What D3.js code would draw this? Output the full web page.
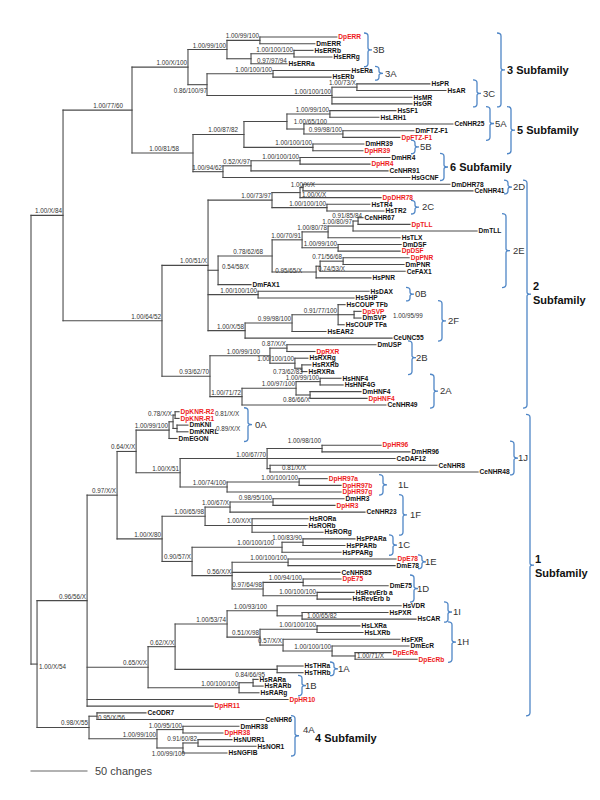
<!DOCTYPE html>
<html>
<head>
<meta charset="utf-8">
<script src="https://cdn.jsdelivr.net/npm/d3@7"></script>
<style>
  html, body { margin: 0; padding: 0; background: #fff; }
  svg { display: block; }
</style>
</head>
<body>
<svg id="chart" width="600" height="800"></svg>
<script>
// ---------------- DATA (branch lengths in "changes", support = Bayesian/MP/ML) ----------------
const subfamily3 = "(((DpERR:67.5,DmERR:48.2)1.00/99/100:28.9,((HsERRb:16.7,HsERRg:33.3)1.00/100/100:37.7,HsERRa:31.6)0.97/97/94:21.1)1.00/99/100:34.2,((HsERa:67.5,HsERb:50.9)1.00/100/100:57.9,((HsPR:64.0,HsAR:78.1)1.00/73/X:21.9,HsMR:70.2,HsGR:70.2)1.00/100/100:109.6)0.86/100/97:16.7)1.00/X/100:49.1";
const subfamily5 = "(((HsSF1:57.9,HsLRH1:43.0)1.00/99/100:37.7,(CeNHR25:130.7,(DmFTZ-F1:62.3,DpFTZ-F1:50.0)0.99/98/100:34.2)1.00/65/100:14.9):37.7,(DmHR39:44.7,DpHR39:43.9)1.00/100/100:60.5)1.00/87/82:44.7";
const subfamily6 = "(((DmHR4:78.9,DpHR4:61.4)1.00/100/100:43.0,CeNHR91:120.2)0.52/X/97:24.6,HsGCNF:164.0)1.00/94/62:26.3";
const group2DC = "(((DmDHR78:128.9,CeNHR41:149.1)1.00/X/X:2.6,DpDHR78:71.1)1.00/X/X:24.6,(HsTR4:37.7,HsTR2:50.0)1.00/100/100:48.2)1.00/73/97:56.1";
const group2E = "((((((CeNHR67:4.4,DpTLL:45.6)0.91/85/84:4.4,DmTLL:108.8)1.00/80/97:21.9,HsTLX:63.2)1.00/80/78:22.8,(DmDSF:55.3,DpDSF:54.4)1.00/99/100:31.6)1.00/70/91:26.3,(((DpPNR:57.9,DmPNR:53.5)0.71/56/68:20.2,CeFAX1:74.6)0.74/53/X:3.5,HsPNR:48.2)0.95/65/X:38.6)0.78/62/68:47.4,DmFAX1:28.9)0.54/58/X:8.8";
const group0B = "(HsDAX:97.4,HsSHP:84.2)1.00/100/100:43.9";
const group2F = "(((HsCOUP TFb:6.1,(DpSVP:6.1,DmSVP:6.1)1.00/95/99:14.0,HsCOUP TFa:5.3)0.91/77/100:40.4,HsEAR2:29.8)0.99/98/100:41.2,CeUNC55:128.9)1.00/X/58:32.5";
const group2BA = "(((DmUSP:78.1,DpRXR:24.6)0.87/X/X:14.9,(HsRXRg:11.4,(HsRXRb:7.9,HsRXRa:4.4)0.73/62/83:6.1)1.00/100/100:21.9)1.00/99/100:52.6,(((HsHNF4:18.4,HsHNF4G:20.2)1.00/99/100:21.1,(DmHNF4:44.7,DpHNF4:50.0)0.86/66/X:12.3)1.00/97/100:47.4,CeNHR49:126.3)1.00/71/72:28.1)0.93/62/70:42.1";
const group0A = "(((DpKNR-R2:3.5,DpKNR-R1:3.5)0.81/X/X:1.8,(DmKNI:9.6,DmKNRL:9.6)0.89/X/X:3.5)0.78/X/X:3.5,DmEGON:7.0)1.00/99/100:28.9";
const group1JL = "(((DpHR96:51.8,DmHR96:77.2)1.00/98/100:48.2,CeDAF12:112.3,(CeNHR8:146.5,CeNHR48:182.5)0.81/X/X:2.6)1.00/67/70:76.3,((DpHR97a:24.6,DpHR97b:36.8)1.00/100/100:63.2,DpHR97g:100.0)1.00/74/100:41.2)1.00/X/51:38.6";
const group1FCDE = "((((DmHR3:62.3,DpHR3:54.4)0.98/95/100:37.7,CeNHR23:118.4)1.00/67/X:21.9,(HsRORa:49.1,HsRORb:48.2,HsRORg:62.3)1.00/X/X:41.2)1.00/65/98:37.7,(((HsPPARa:45.6,HsPPARb:36.8)1.00/83/90:18.4,HsPPARg:51.8)1.00/100/100:78.9,((DpE78:94.7,DmE78:93.9)1.00/100/100:49.1,CeNHR85:94.7,((DpE75:33.3,DmE75:74.6)1.00/94/100:35.1,(HsRevErb a:32.5,HsRevErb b:29.8)1.00/100/100:47.4)0.97/64/98:27.2)0.56/X/X:35.1)0.90/57/X:26.3)1.00/X/80:39.5";
const group1IHAB = "((((HsVDR:108.8,(HsPXR:75.4,HsCAR:100.0)1.00/65/82:21.9)1.00/93/100:43.9,((HsLXRa:37.7,HsLXRb:40.4)1.00/100/100:50.0,(HsFXR:102.6,(DmEcR:67.5,(DpEcRa:31.6,DpEcRb:54.4)1.00/71/X:20.2)1.00/100/100:43.0)0.57/X/X:20.2)0.51/X/98:28.9)1.00/53/74:45.6,(HsTHRa:22.8,HsTHRb:22.8):89.5)0.62/X/X:23.7,((HsRARa:4.4,HsRARb:8.8)0.84/66/95:12.3,HsRARg:17.5)1.00/100/100:79.8)0.65/X/X:53.5";
const group4 = "((CeODR7:43.0,CeNHR6:146.5)0.95/X/56:7.0,((DmHR38:49.1,DpHR38:35.1)1.00/95/100:22.8,((HsNURR1:29.8,HsNOR1:50.9)0.91/60/82:13.2,HsNGFIB:38.6)1.00/99/100:22.8)1.00/99/100:59.6)0.98/X/55:45.6";

const treeNewick =
  `(((${subfamily3},(${subfamily5},${subfamily6})1.00/81/58:53.5)1.00/77/60:60.5,` +
  `((${group2DC},${group2E},${group0B},${group2F})1.00/51/X:40.4,${group2BA})1.00/64/52:86.8)1.00/X/84:28.1,` +
  `((((${group0A},${group1JL})0.64/X/X:16.7,${group1FCDE})0.97/X/X:26.3,${group1IHAB},DpHR10:176.3,DpHR11:110.5)0.96/56/X:43.9,` +
  `${group4})1.00/X/54:5.3);`;

// clade brackets: label, first leaf, last leaf
const cladeGroups = [
  ["3B", "DpERR", "HsERRa"], ["3A", "HsERa", "HsERb"], ["3C", "HsPR", "HsGR"],
  ["3 Subfamily", "DpERR", "HsGR"],
  ["5A", "HsSF1", "DpFTZ-F1"], ["5B", "DmHR39", "DpHR39"], ["5 Subfamily", "HsSF1", "DpHR39"],
  ["6 Subfamily", "DmHR4", "HsGCNF"],
  ["2D", "DmDHR78", "CeNHR41"], ["2C", "HsTR4", "HsTR2"], ["2E", "CeNHR67", "DmFAX1"],
  ["0B", "HsDAX", "HsSHP"], ["2F", "HsCOUP TFb", "CeUNC55"], ["2B", "DmUSP", "HsRXRa"],
  ["2A", "HsHNF4", "CeNHR49"], ["2 Subfamily", "DmDHR78", "CeNHR49"],
  ["0A", "DpKNR-R2", "DmEGON"], ["1J", "DpHR96", "CeNHR48"], ["1L", "DpHR97a", "DpHR97g"],
  ["1F", "DmHR3", "HsRORg"], ["1C", "HsPPARa", "HsPPARg"], ["1E", "DpE78", "DmE78"],
  ["1D", "DpE75", "HsRevErb b"], ["1I", "HsVDR", "HsCAR"], ["1H", "HsLXRa", "DpEcRb"],
  ["1 Subfamily", "DpKNR-R1", "CeODR7"], ["1A", "HsTHRa", "HsTHRb"], ["1B", "HsRARa", "HsRARg"],
  ["4A", "CeNHR6", "HsNGFIB"]
];
const extraLabels = [["4 Subfamily", "4A"]];
const scaleBarValue = 50;
const scaleBarText = "50 changes";

// ---------------- LAYOUT ----------------
const bracketLayout = {
  "3B": {x: 368, tx: 5}, "3A": {x: 379, tx: 6}, "3C": {x: 477, tx: 6},
  "3 Subfamily": {x: 501, tx: 6},
  "5A": {x: 490, tx: 5}, "5B": {x: 415, tx: 5}, "5 Subfamily": {x: 511, tx: 6},
  "6 Subfamily": {x: 444, tx: 6},
  "2D": {x: 508, tx: 5}, "2C": {x: 415, tx: 7}, "2E": {x: 506, tx: 7},
  "0B": {x: 410, tx: 5}, "2F": {x: 442, tx: 6}, "2B": {x: 412, tx: 4},
  "2A": {x: 434, tx: 6}, "2 Subfamily": {x: 527, tx: 6, two: true, ty: 0},
  "0A": {x: 248, tx: 7}, "1J": {x: 514, tx: 4}, "1L": {x: 383, tx: 15},
  "1F": {x: 403, tx: 7}, "1C": {x: 393, tx: 5}, "1E": {x: 422, tx: 3},
  "1D": {x: 414, tx: 3}, "1I": {x: 448, tx: 5}, "1H": {x: 452, tx: 5},
  "1 Subfamily": {x: 530, tx: 5, two: true, ty: 2}, "1A": {x: 334, tx: 4}, "1B": {x: 302, tx: 3},
  "4A": {x: 295, tx: 8, ty: -6}
};
// support-label placement tweaks keyed by "firstLeaf|lastLeaf"
const labelNudges = {
  "DpKNR-R2|HsNGFIB": {a: "start", dx: 2, dy: 4.5},
  "HsERRb|HsERRa": {a: "start", dx: 6, dy: 4},
  "DpKNR-R2|DpKNR-R1": {a: "start", dx: 40, dy: 1},
  "DmKNI|DmKNRL": {a: "start", dx: 39, dy: 3},
  "DpSVP|DmSVP": {a: "start", dx: 39, dy: 3},
  "CeNHR8|CeNHR48": {a: "start", dx: 12, dy: 1.5},
  "HsRXRb|HsRXRa": {a: "end", dx: 1, dy: 6},
  "DmHNF4|DpHNF4": {a: "end", dx: 0, dy: 7},
  "HsPXR|HsCAR": {a: "start", dx: 5, dy: 2},
  "DpEcRa|DpEcRb": {a: "start", dx: 2, dy: 2},
  "HsRARa|HsRARb": {a: "end", dx: 12, dy: -5.5},
  "HsNURR1|HsNGFIB": {a: "end", dx: 2, dy: 8.5},
  "CeODR7|CeNHR6": {a: "start", dx: 1, dy: 4},
  "DmDHR78|CeNHR41": {a: "end", dx: 12, dy: -1},
  "DmDHR78|DpDHR78": {a: "start", dx: 2, dy: 4.5},
  "CeNHR67|DpTLL": {a: "end", dx: 4, dy: -3.5},
  "CeNHR67|HsPNR": {a: "end", dx: -9, dy: -2},
  "CeNHR67|DmFAX1": {a: "start", dx: 4, dy: -1},
  "DpPNR|HsPNR": {a: "end", dx: -14, dy: 1},
  "DpPNR|CeFAX1": {a: "start", dx: -2, dy: 5},
  "DmUSP|HsRXRa": {a: "end", dx: -10, dy: -2},
  "DpHR96|DmHR96": {a: "end", dx: -1, dy: -6},
  "HsVDR|HsCAR": {a: "end", dx: -10, dy: -2},
  "CeNHR25|DpFTZ-F1": {a: "end", dx: 23, dy: -5.5},
  "HsERa|HsGR": {a: "end", dx: 0, dy: 8},
  "HsSF1|HsGCNF": {a: "end", dx: -14, dy: -2},
  "HsSF1|DpHR39": {a: "end", dx: -6, dy: -2},
  "DpERR|HsGCNF": {a: "end", dx: -9, dy: -2},
  "DpKNR-R2|DmKNRL": {a: "end", dx: -1, dy: -6},
  "HsPPARa|HsPPARg": {a: "end", dx: -8, dy: -2}
};

// ---------------- PARSER ----------------
function parseNewick(str) {
  const s = str.replace(/\s*([(),:;])\s*/g, "$1");
  let i = 0;
  function node() {
    const n = {children: []};
    if (s[i] === "(") {
      i++;
      n.children.push(node());
      while (s[i] === ",") { i++; n.children.push(node()); }
      i++;
    }
    let lab = "";
    while (i < s.length && !",():;".includes(s[i])) lab += s[i++];
    lab = lab.trim();
    if (n.children.length) n.support = lab; else { n.name = lab; delete n.children; }
    n.length = 0;
    if (s[i] === ":") {
      i++;
      let num = "";
      while (i < s.length && !",();".includes(s[i])) num += s[i++];
      n.length = +num;
    }
    return n;
  }
  return node();
}

// ---------------- DRAW ----------------
const svg = d3.select("#chart");
const root = d3.hierarchy(parseNewick(treeNewick));
root.each(d => { d.dist = (d.parent ? d.parent.dist : 0) + (d.parent ? d.data.length : 0); });
const leaves = root.leaves();

const xScale = d3.scaleLinear().domain([0, scaleBarValue]).range([31, 88]);
const yScale = d3.scaleLinear().domain([0, leaves.length - 1]).range([37, 753]);

leaves.forEach((d, i) => { d.py = yScale(i); });
root.eachAfter(d => {
  d.px = xScale(d.dist);
  if (d.children) d.py = (d.children[0].py + d.children[d.children.length - 1].py) / 2;
});
root.each(d => {
  if (d.children) {
    const lv = d.leaves();
    d.key = lv[0].data.name + "|" + lv[lv.length - 1].data.name;
  }
});

const branchColor = "#4a4a4a";
const gTree = svg.append("g");

// horizontal branches
gTree.selectAll("path.h").data(root.descendants().filter(d => d.parent))
  .join("path")
  .attr("d", d => `M${d.parent.px},${d.py}H${d.px}`)
  .attr("stroke", branchColor).attr("stroke-width", 1.1).attr("fill", "none")
  .attr("stroke-linecap", "square");

// vertical connectors
gTree.selectAll("path.v").data(root.descendants().filter(d => d.children))
  .join("path")
  .attr("d", d => `M${d.px},${d.children[0].py}V${d.children[d.children.length - 1].py}`)
  .attr("stroke", branchColor).attr("stroke-width", 1.1).attr("fill", "none")
  .attr("stroke-linecap", "square");

// leaf labels
gTree.selectAll("text.leaf").data(leaves).join("text")
  .attr("x", d => d.px + 1.5)
  .attr("y", d => d.py + 2.3)
  .attr("font-family", "Liberation Sans, Arial, sans-serif")
  .attr("font-size", 6.6)
  .attr("font-weight", "bold")
  .attr("fill", d => d.data.name.startsWith("Dp") ? "#ee1c1c" : "#111")
  .text(d => d.data.name);

// support labels
gTree.selectAll("text.sup").data(root.descendants().filter(d => d.children && d.parent && d.data.support))
  .join("text")
  .each(function(d) {
    const o = labelNudges[d.key] || {a: "end", dx: -1, dy: -2};
    d3.select(this)
      .attr("x", d.px + o.dx)
      .attr("y", d.py + o.dy)
      .attr("text-anchor", o.a);
  })
  .attr("font-family", "Liberation Sans, Arial, sans-serif")
  .attr("font-size", 6.3)
  .attr("fill", "#333")
  .text(d => d.data.support);

// clade brackets
const leafY = {};
leaves.forEach(d => { leafY[d.data.name] = d.py; });
const blue = "#4f86c6";
const gBr = svg.append("g");
const bracketMid = {};
cladeGroups.forEach(([label, first, last]) => {
  const L = bracketLayout[label];
  const x = L.x, y0 = leafY[first] - 4, y1 = leafY[last] + 3;
  const m = (y0 + y1) / 2, h = 4, r = 3;
  bracketMid[label] = {x, m};
  gBr.append("path")
    .attr("d", `M${x - h},${y0}Q${x},${y0} ${x},${y0 + r}V${m - 2}Q${x},${m} ${x + 4},${m}Q${x},${m} ${x},${m + 2}V${y1 - r}Q${x},${y1} ${x - h},${y1}`)
    .attr("fill", "none").attr("stroke", blue).attr("stroke-width", 1.3);
  const isSub = label.includes("Subfamily");
  const t = gBr.append("text")
    .attr("x", x + L.tx)
    .attr("font-family", "Liberation Sans, Arial, sans-serif")
    .attr("fill", isSub ? "#111" : "#333")
    .attr("font-size", isSub ? 11 : 9.5)
    .attr("font-weight", isSub ? "bold" : "normal");
  if (L.two) {
    const parts = label.split(" ");
    t.append("tspan").attr("x", x + L.tx).attr("y", m - 4 + L.ty).text(parts[0]);
    t.append("tspan").attr("x", x + L.tx).attr("y", m + 10 + L.ty).text(parts[1]);
  } else {
    t.attr("y", m + (L.ty || 0)).attr("dy", "0.35em").text(label);
  }
});
extraLabels.forEach(([label, ref]) => {
  const b = bracketMid[ref];
  gBr.append("text")
    .attr("x", b.x + 20).attr("y", b.m + 2).attr("dy", "0.35em")
    .attr("font-family", "Liberation Sans, Arial, sans-serif")
    .attr("font-size", 11).attr("font-weight", "bold").attr("fill", "#111")
    .text(label);
});

// scale bar
const sbY = 771;
svg.append("line")
  .attr("x1", xScale(0) - 0.5).attr("x2", xScale(scaleBarValue) - 0.5)
  .attr("y1", sbY).attr("y2", sbY)
  .attr("stroke", "#666").attr("stroke-width", 1.1);
svg.append("text")
  .attr("x", xScale(scaleBarValue) + 7).attr("y", sbY).attr("dy", "0.35em")
  .attr("font-family", "Liberation Sans, Arial, sans-serif")
  .attr("font-size", 11).attr("fill", "#444")
  .text(scaleBarText);
</script>
</body>
</html>
